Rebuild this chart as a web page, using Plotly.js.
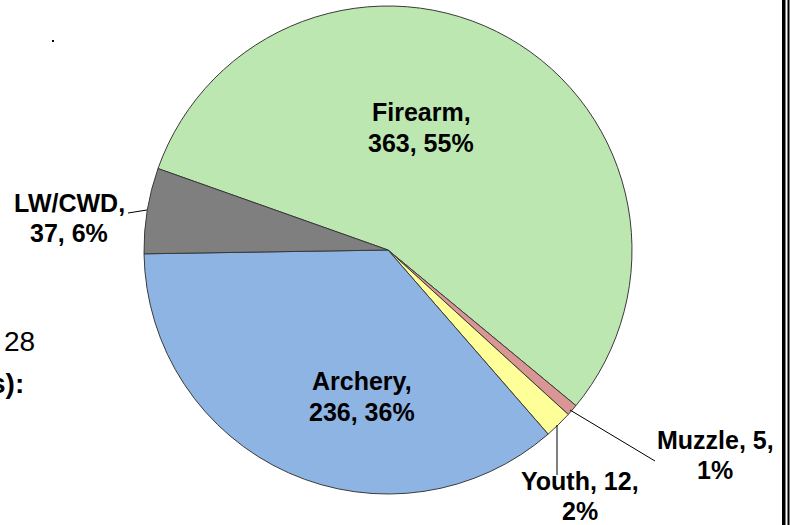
<!DOCTYPE html>
<html>
<head>
<meta charset="utf-8">
<script src="https://cdn.plot.ly/plotly-3.0.1.min.js"></script>
<style>
  html, body { margin: 0; padding: 0; background: #ffffff; }
  #chart { width: 791px; height: 525px; }
</style>
</head>
<body>
<div id="chart"></div>
<script>
// ---- data ----
var labels   = ["Firearm", "Muzzle", "Youth", "Archery", "LW/CWD"];
var values   = [363, 5, 12, 236, 37];
var percents = [55, 1, 2, 36, 6];
var colors   = ["#BDE7B1", "#D99694", "#FFFF99", "#8EB4E3", "#7F7F7F"];
// how each label breaks into two lines: after the name or after the value
var breakAfter = ["name", "value", "value", "name", "name"];

// ---- layout helpers (pixel -> paper) ----
var W = 791, H = 525;
function px(x) { return x / W; }
function py(y) { return 1 - y / H; }

// label positions (line centres in px) and leader lines
var labelPos = [
  { x: 421, y1: 112, y2: 143 },
  { x: 715, y1: 440, y2: 470 },
  { x: 580, y1: 481, y2: 511 },
  { x: 362, y1: 381, y2: 412 },
  { x: 69,  y1: 203, y2: 233 }
];
var leaders = [
  null,
  [570, 410, 655, 461],
  [557, 425, 557, 475],
  null,
  [128, 213, 147, 210]
];

var font = { family: "Liberation Sans, Arial, sans-serif", size: 25, color: "#000000" };
var annotations = [];
var shapes = [];

labels.forEach(function (lab, i) {
  var l1, l2;
  if (breakAfter[i] === "name") {
    l1 = lab + ",";
    l2 = values[i] + ", " + percents[i] + "%";
  } else {
    l1 = lab + ", " + values[i] + ",";
    l2 = percents[i] + "%";
  }
  var p = labelPos[i];
  [[l1, p.y1], [l2, p.y2]].forEach(function (t) {
    annotations.push({
      xref: "paper", yref: "paper",
      x: px(p.x), y: py(t[1]),
      xanchor: "center", yanchor: "middle",
      text: "<b>" + t[0] + "</b>",
      showarrow: false, font: font
    });
  });
  if (leaders[i]) {
    var L = leaders[i];
    shapes.push({
      type: "line", xref: "paper", yref: "paper",
      x0: px(L[0]), y0: py(L[1]), x1: px(L[2]), y1: py(L[3]),
      line: { color: "#000000", width: 1 }
    });
  }
});

// stray slide fragments visible in the reference (the left one is cut by the edge there too)
annotations.push({
  xref: "paper", yref: "paper", x: px(19), y: py(341),
  xanchor: "center", yanchor: "middle", showarrow: false,
  text: "28", font: { family: "Liberation Sans, Arial, sans-serif", size: 28, color: "#000" }
});
annotations.push({
  xref: "paper", yref: "paper", x: px(26), y: py(383),
  xanchor: "right", yanchor: "middle", showarrow: false,
  text: "<b>s):</b>", font: { family: "Liberation Sans, Arial, sans-serif", size: 28, color: "#000" }
});
shapes.push({ type: "rect", xref: "paper", yref: "paper",
  x0: px(52), x1: px(54), y0: py(40), y1: py(42),
  fillcolor: "#000", line: { width: 0 } });
shapes.push({ type: "rect", xref: "paper", yref: "paper",
  x0: px(782), x1: px(785.5), y0: 0, y1: 1,
  fillcolor: "#000", line: { width: 0 } });
shapes.push({ type: "rect", xref: "paper", yref: "paper",
  x0: px(787.5), x1: px(789.5), y0: 0, y1: 1,
  fillcolor: "#000", line: { width: 0 } });

var trace = {
  type: "pie",
  labels: labels,
  values: values,
  sort: false,
  direction: "clockwise",
  rotation: 289.5,
  textinfo: "none",
  hoverinfo: "label+value+percent",
  marker: { colors: colors, line: { color: "#3a3a3a", width: 1 } },
  domain: { x: [px(144), px(632)], y: [py(494), py(6)] },
  showlegend: false
};

var layout = {
  width: W, height: H,
  margin: { l: 0, r: 0, t: 0, b: 0 },
  paper_bgcolor: "#ffffff",
  plot_bgcolor: "#ffffff",
  showlegend: false,
  annotations: annotations,
  shapes: shapes
};

Plotly.newPlot("chart", [trace], layout, { displayModeBar: false, staticPlot: true });
</script>
</body>
</html>
